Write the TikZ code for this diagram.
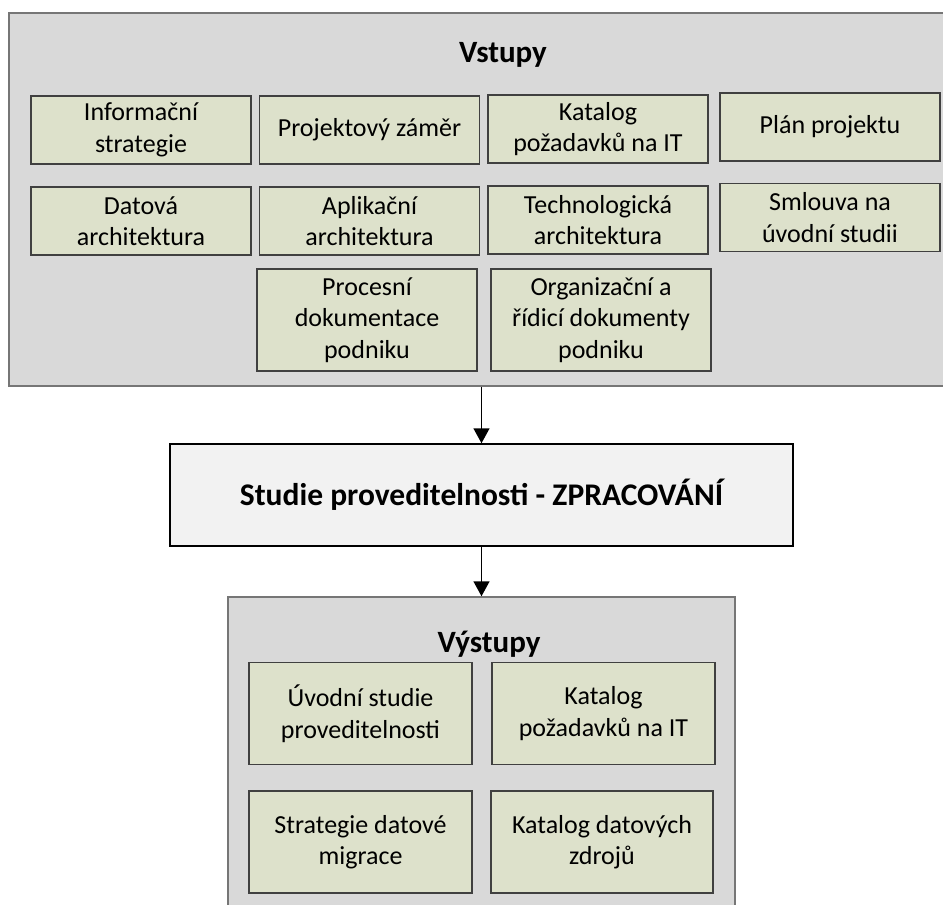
\documentclass[tikz,border=0pt]{standalone}
\usepackage{fontspec}
\setmainfont{Carlito}
\usepackage{xcolor}
\usetikzlibrary{arrows.meta, positioning}
\definecolor{panelgray}{HTML}{D9D9D9}
\definecolor{panelline}{HTML}{767676}
\definecolor{itemfill}{HTML}{DDE1CB}
\definecolor{itemline}{HTML}{404040}
\definecolor{procfill}{HTML}{F2F2F2}

\begin{document}
\begin{tikzpicture}[x=1pt, y=-1pt,
    panel/.style={draw=panelline, line width=1.5pt, fill=panelgray, inner sep=0pt},
    item/.style={draw=itemline, line width=1.2pt, fill=itemfill, inner sep=0pt,
        minimum width=220pt, align=center, font=\fontsize{26}{31.5}\selectfont},
    row/.style={minimum height=68pt},
    tall/.style={minimum height=102pt},
    heading/.style={anchor=base, font=\fontsize{31}{36}\selectfont\bfseries},
    flow/.style={-{Triangle[width=16pt, length=15pt]}, line width=1.5pt}
]
    \useasboundingbox (0,0) rectangle (943,905);

    % Vstupy panel
    \node[panel, minimum width=951pt, minimum height=373pt] (inputs) at (484.5,199.5) {};
    \node[heading] (inputstitle) at (503,62) {Vstupy};

    % first row of inputs
    \node[item, row] (infostrat) at (141,130) {Informační\\strategie};
    \node[item, row] (zamer) at (369.5,130) {Projektový záměr};
    \node[item, row] (katalogin) at (598,129) {Katalog\\požadavků na IT};
    \node[item, row] (plan) at (830,127) {Plán projektu};

    % second row of inputs
    \node[item, row] (datarch) at (141,221) {Datová\\architektura};
    \node[item, row] (aplarch) at (369.5,221) {Aplikační\\architektura};
    \node[item, row] (techarch) at (598,220) {Technologická\\architektura};
    \node[item, row] (smlouva) at (830,217.5) {Smlouva na\\úvodní studii};

    % third row of inputs
    \node[item, tall] (procdok) at (367,320) {Procesní\\dokumentace\\podniku};
    \node[item, tall] (orgdok) at (601,320) {Organizační a\\řídicí dokumenty\\podniku};

    % processing step
    \node[draw=black, line width=1.5pt, fill=procfill, minimum width=623pt, minimum height=102pt,
        font=\fontsize{31.5}{36}\selectfont\bfseries] (proc) at (481.5,495)
        {Studie proveditelnosti - ZPRACOVÁNÍ};

    % Výstupy panel
    \node[panel, minimum width=507pt, minimum height=333pt] (outputs) at (481.5,763.5) {};
    \node[heading] (outputstitle) at (489,652) {Výstupy};

    \node[item, tall, minimum width=223pt] (uvodni) at (360.5,713.5) {Úvodní studie\\proveditelnosti};
    \node[item, tall, minimum width=223pt] (katalogout) at (603.5,713.5) {Katalog\\požadavků na IT};
    \node[item, tall, minimum width=223pt] (migrace) at (360.5,842) {Strategie datové\\migrace};
    \node[item, tall, minimum width=222pt] (zdroje) at (602,842) {Katalog datových\\zdrojů};

    % arrows
    \draw[flow] (proc.north |- inputs.south) -- (proc.north);
    \draw[flow] (proc.south) -- (outputs.north);
\end{tikzpicture}
\end{document}
